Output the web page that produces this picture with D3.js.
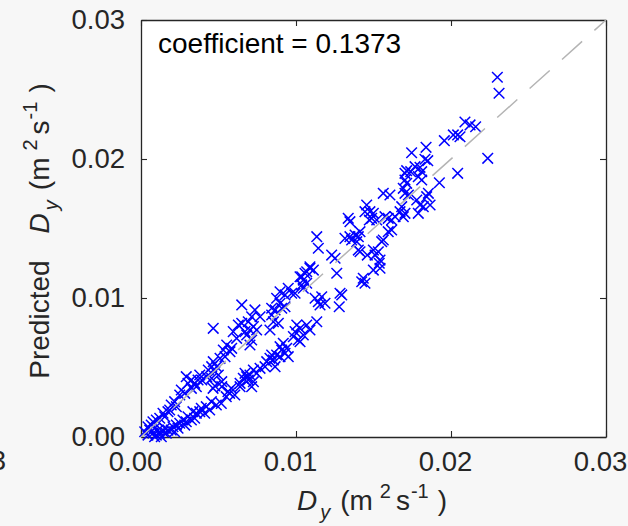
<!DOCTYPE html>
<html>
<head>
<meta charset="utf-8">
<script src="https://cdn.jsdelivr.net/npm/d3@7"></script>
<style>
  body { margin: 0; background: #f7f7f7; }
  svg { display: block; font-family: Arial, "Liberation Sans", Helvetica, sans-serif; }
</style>
</head>
<body>
<div id="chart"></div>
<script>
// measured D_y (x) against predicted D_y (y), m^2 s^-1
const measuredDy = [
  0.02299, 0.02310, 0.02237, 0.02043, 0.02123, 0.02159, 0.02090, 0.02043, 0.02015, 0.02058,
  0.01957, 0.01839, 0.01746, 0.01832, 0.01850, 0.01768, 0.01800, 0.01714, 0.01703, 0.01740,
  0.01811, 0.01789, 0.01811, 0.01703, 0.01714, 0.01925, 0.01692, 0.01703, 0.01606, 0.01563,
  0.01854, 0.01843, 0.01779, 0.01800, 0.01865, 0.01821, 0.01682, 0.01671, 0.01703, 0.01789,
  0.01639, 0.01574,
  0.01725, 0.01456, 0.01445, 0.01477, 0.01499, 0.01488, 0.01521, 0.01473, 0.01692, 0.01617,
  0.01595, 0.01337, 0.01348, 0.01617, 0.01595, 0.01413, 0.01381, 0.01402, 0.01348, 0.01316,
  0.01359, 0.01392, 0.01134, 0.01144, 0.01563, 0.01553, 0.01402, 0.01413, 0.01499, 0.01531,
  0.01510, 0.01460, 0.01542, 0.01537, 0.01230, 0.01252, 0.01499, 0.01542, 0.01263, 0.01090,
  0.01112, 0.01058, 0.01037, 0.01047, 0.01069, 0.01037, 0.01047, 0.01434, 0.01445, 0.01424,
  0.01295, 0.01166, 0.01123, 0.00994, 0.01090, 0.01069, 0.01026,
  0.01144, 0.01187, 0.01155, 0.01279, 0.01284, 0.01134, 0.00650, 0.00897, 0.00929, 0.00972,
  0.00950, 0.00875, 0.00897, 0.00865, 0.00843, 0.00908, 0.00929, 0.00843, 0.00854, 0.00832,
  0.00886, 0.00735, 0.00768, 0.00714, 0.00692, 0.00725, 0.00703, 0.00671, 0.00746, 0.00650,
  0.00628, 0.00682, 0.00714, 0.00703, 0.00466, 0.00595, 0.00617, 0.00553, 0.00585, 0.00531,
  0.00574, 0.00542, 0.00510, 0.00466, 0.00456, 0.00488, 0.00434, 0.00477, 0.00499, 0.00424,
  0.00456, 0.00521, 0.00477, 0.00521, 0.00392,
  0.01005, 0.01026, 0.00994, 0.01047, 0.00983, 0.01015, 0.01026, 0.01069, 0.01090, 0.00918,
  0.00897, 0.00940, 0.00908, 0.00929, 0.00875, 0.00897, 0.00950, 0.00843, 0.00832, 0.00811,
  0.00854, 0.00800, 0.00865, 0.00768, 0.00725, 0.00703, 0.00682, 0.00746, 0.00671, 0.00660,
  0.00692, 0.00639, 0.00725, 0.00714, 0.00639,
  0.00379, 0.00368, 0.00292, 0.00325, 0.00346, 0.00303, 0.00357, 0.00325, 0.00260, 0.00250,
  0.00282, 0.00217, 0.00195, 0.00228, 0.00185, 0.00174, 0.00142, 0.00153, 0.00121, 0.00099,
  0.00077, 0.00066, 0.00045, 0.00088, 0.00056, 0.00077, 0.00045, 0.00024, 0.00088,
  0.00583, 0.00572, 0.00605, 0.00550, 0.00561, 0.00465, 0.00518, 0.00486, 0.00454, 0.00421,
  0.00443, 0.00389, 0.00379, 0.00411, 0.00357, 0.00335, 0.00346, 0.00325, 0.00303, 0.00292,
  0.00271, 0.00250, 0.00282, 0.00228, 0.00239, 0.00206, 0.00195, 0.00217, 0.00174, 0.00153,
  0.00142, 0.00163, 0.00121, 0.00110, 0.00131, 0.00099
];
const predictedDy = [
  0.02588, 0.02473, 0.02005, 0.01897, 0.02245, 0.02232, 0.02266, 0.02173, 0.02173, 0.02160,
  0.02132, 0.02084, 0.02045, 0.01998, 0.01988, 0.01945, 0.01940, 0.01916, 0.01897, 0.01909,
  0.01909, 0.01873, 0.01849, 0.01849, 0.01825, 0.01829, 0.01789, 0.01753, 0.01741, 0.01753,
  0.01753, 0.01729, 0.01705, 0.01669, 0.01669, 0.01657, 0.01657, 0.01621, 0.01609, 0.01609,
  0.01585, 0.01585,
  0.01741, 0.01669, 0.01621, 0.01621, 0.01609, 0.01573, 0.01561, 0.01561, 0.01585, 0.01561,
  0.01573, 0.01573, 0.01549, 0.01489, 0.01477, 0.01477, 0.01453, 0.01441, 0.01441, 0.01429,
  0.01417, 0.01405, 0.01441, 0.01358, 0.01417, 0.01405, 0.01345, 0.01333, 0.01345, 0.01333,
  0.01309, 0.01309, 0.01273, 0.01250, 0.01309, 0.01286, 0.01201, 0.01214, 0.01178, 0.01214,
  0.01201, 0.01178, 0.01153, 0.01129, 0.01106, 0.01094, 0.01070, 0.01142, 0.01106, 0.01117,
  0.01022, 0.01009, 0.00998, 0.01034, 0.01225, 0.01189, 0.01153,
  0.00973, 0.00962, 0.00950, 0.00937, 0.01034, 0.00829, 0.00950, 0.01045, 0.01022, 0.01034,
  0.01070, 0.00998, 0.00962, 0.00914, 0.00926, 0.00926, 0.00937, 0.00878, 0.00829, 0.00770,
  0.00818, 0.00914, 0.00865, 0.00865, 0.00829, 0.00794, 0.00770, 0.00758, 0.00770, 0.00818,
  0.00806, 0.00734, 0.00698, 0.00662, 0.00782, 0.00758, 0.00710, 0.00662, 0.00638, 0.00626,
  0.00614, 0.00578, 0.00566, 0.00542, 0.00506, 0.00506, 0.00482, 0.00470, 0.00446, 0.00434,
  0.00422, 0.00398, 0.00367, 0.00362, 0.00410,
  0.00806, 0.00782, 0.00758, 0.00734, 0.00722, 0.00698, 0.00686, 0.00806, 0.00770, 0.00674,
  0.00650, 0.00638, 0.00626, 0.00602, 0.00590, 0.00578, 0.00578, 0.00590, 0.00566, 0.00542,
  0.00554, 0.00506, 0.00506, 0.00494, 0.00482, 0.00446, 0.00434, 0.00458, 0.00458, 0.00422,
  0.00410, 0.00386, 0.00398, 0.00362, 0.00362,
  0.00446, 0.00410, 0.00434, 0.00410, 0.00386, 0.00386, 0.00362, 0.00350, 0.00338, 0.00302,
  0.00314, 0.00254, 0.00230, 0.00218, 0.00194, 0.00182, 0.00171, 0.00146, 0.00135, 0.00122,
  0.00110, 0.00086, 0.00074, 0.00063, 0.00050, 0.00027, 0.00014, 0.00038, 0.00002,
  0.00350, 0.00314, 0.00302, 0.00290, 0.00326, 0.00350, 0.00242, 0.00230, 0.00254, 0.00218,
  0.00194, 0.00206, 0.00182, 0.00171, 0.00171, 0.00182, 0.00135, 0.00122, 0.00146, 0.00110,
  0.00122, 0.00099, 0.00086, 0.00086, 0.00063, 0.00074, 0.00050, 0.00038, 0.00050, 0.00063,
  0.00038, 0.00027, 0.00027, 0.00050, 0.00002, 0.00014
];
const tickValues = [0, 0.01, 0.02, 0.03];
const coefText = "coefficient = 0.1373";

const W = 628, H = 526;
const plot = { left: 141, right: 606, top: 20, bottom: 437 };
const ink = "#262626";
const tickFont = 27.5, labelFont = 28;

const svg = d3.select("#chart").append("svg")
    .attr("width", W)
    .attr("height", H);

svg.append("rect").attr("width", W).attr("height", H).attr("fill", "#f7f7f7");

const x = d3.scaleLinear().domain([0, 0.03]).range([plot.left, plot.right]);
const y = d3.scaleLinear().domain([0, 0.03]).range([plot.bottom, plot.top]);

svg.append("rect")
    .attr("x", plot.left).attr("y", plot.top)
    .attr("width", plot.right - plot.left).attr("height", plot.bottom - plot.top)
    .attr("fill", "#ffffff");

// axes: ticks point inwards, box on
function styleAxis(g) {
  g.attr("font-family", null).attr("font-size", null);
  g.select(".domain").attr("stroke", ink).attr("stroke-width", 1.3);
  g.selectAll(".tick line").attr("stroke", ink).attr("stroke-width", 1.1);
  g.selectAll(".tick text").attr("fill", ink).style("font-size", tickFont + "px");
}
const fmt = d3.format(".2f");

svg.append("g")
    .attr("transform", `translate(0,${plot.bottom})`)
    .call(d3.axisBottom(x).tickValues(tickValues).tickFormat(fmt)
      .tickSizeInner(-6).tickSizeOuter(0).tickPadding(14))
    .call(styleAxis)
    .call(g => g.selectAll(".tick text").attr("x", -6));

svg.append("g")
    .attr("transform", `translate(${plot.left},0)`)
    .call(d3.axisLeft(y).tickValues(tickValues).tickFormat(fmt)
      .tickSizeInner(-6).tickSizeOuter(0).tickPadding(16))
    .call(styleAxis);

svg.append("g")
    .attr("transform", `translate(0,${plot.top})`)
    .call(d3.axisTop(x).tickValues(tickValues).tickFormat("")
      .tickSizeInner(-6).tickSizeOuter(0))
    .call(styleAxis);

svg.append("g")
    .attr("transform", `translate(${plot.right},0)`)
    .call(d3.axisRight(y).tickValues(tickValues).tickFormat("")
      .tickSizeInner(-6).tickSizeOuter(0))
    .call(styleAxis);

// scatter markers
const pts = measuredDy.map((d, i) => [d, predictedDy[i]]);
const r = 5.3;
svg.append("g")
  .selectAll("path")
  .data(pts)
  .join("path")
    .attr("d", `M${-r},${-r}L${r},${r}M${-r},${r}L${r},${-r}`)
    .attr("transform", d => `translate(${x(d[0])},${y(d[1])})`)
    .attr("fill", "none")
    .attr("stroke", "#0000ff")
    .attr("stroke-width", 1.5);

// 1:1 line
svg.append("line")
    .attr("x1", x(0)).attr("y1", y(0))
    .attr("x2", x(0.03)).attr("y2", y(0.03))
    .attr("stroke", "#b4b4b4")
    .attr("stroke-width", 1.5)
    .attr("stroke-dasharray", "27,16.5");

svg.append("text")
    .attr("x", 158).attr("y", 53)
    .attr("fill", "#000")
    .style("font-size", "28px")
    .text(coefText);

// label builder for D_y (m^2 s^-1)
function unitLabel(t, parts) {
  parts.forEach(p => {
    const s = t.append("tspan").text(p.text);
    if (p.dx) s.attr("dx", p.dx);
    if (p.dy) s.attr("dy", p.dy);
    if (p.size) s.style("font-size", p.size + "px");
    if (p.italic) s.style("font-style", "italic");
  });
}
const dyParts = [
  { text: "D", italic: true },
  { text: "y", dx: 3, dy: 9, size: 20, italic: true },
  { text: "(m", dx: 10, dy: -9 },
  { text: "2", dx: 7, dy: -12, size: 20 },
  { text: "s", dx: 5, dy: 12 },
  { text: "-1", dx: 1, dy: -12, size: 20 },
  { text: ")", dx: 9, dy: 12 }
];

const xLab = svg.append("text")
    .attr("x", 372).attr("y", 510)
    .attr("text-anchor", "middle")
    .attr("fill", ink)
    .style("font-size", labelFont + "px");
unitLabel(xLab, dyParts);

const yLab = svg.append("text")
    .attr("transform", "translate(49,231) rotate(-90)")
    .attr("text-anchor", "middle")
    .attr("fill", ink)
    .style("font-size", labelFont + "px");
unitLabel(yLab, [{ text: "Predicted" }, Object.assign({}, dyParts[0], { dx: 27 })].concat(dyParts.slice(1)));

// tick label of the neighbouring panel, cut at the left edge
svg.append("text")
    .attr("x", 6).attr("y", 470)
    .attr("text-anchor", "end")
    .attr("fill", ink)
    .style("font-size", tickFont + "px")
    .text("0.03");
</script>
</body>
</html>
